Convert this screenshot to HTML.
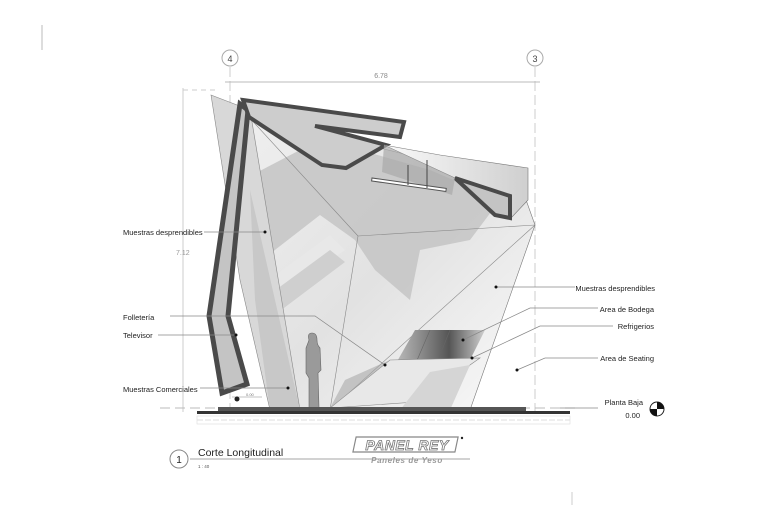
<!DOCTYPE html>
<html><head><meta charset="utf-8"><style>
html,body{margin:0;padding:0;background:#fff;}
svg{display:block;}
text{font-family:"Liberation Sans",Arial,sans-serif;}
</style></head><body>
<svg width="780" height="505" viewBox="0 0 780 505" xmlns="http://www.w3.org/2000/svg">
<defs>
<linearGradient id="g1" x1="0" y1="0" x2="1" y2="1">
<stop offset="0" stop-color="#efefef"/><stop offset="0.5" stop-color="#e2e2e2"/><stop offset="1" stop-color="#fafafa"/></linearGradient>
<linearGradient id="g2" x1="0" y1="0" x2="1" y2="0">
<stop offset="0" stop-color="#bdbdbd"/><stop offset="0.6" stop-color="#555"/><stop offset="1" stop-color="#cfcfcf"/></linearGradient>
<linearGradient id="g3" x1="0" y1="0" x2="1" y2="0">
<stop offset="0" stop-color="#fafafa"/><stop offset="1" stop-color="#cfcfcf"/></linearGradient>
</defs>
<line x1="42" y1="25" x2="42" y2="50" stroke="#bbb" stroke-width="1"/>
<circle cx="230" cy="58" r="8" fill="#fff" stroke="#aaa"/><text x="230" y="62" font-size="9" text-anchor="middle" fill="#444">4</text>
<circle cx="535" cy="58" r="8" fill="#fff" stroke="#aaa"/><text x="535" y="62" font-size="9" text-anchor="middle" fill="#444">3</text>
<line x1="230" y1="67" x2="230" y2="420" stroke="#ccc" stroke-dasharray="10,4"/>
<line x1="535" y1="67" x2="535" y2="420" stroke="#ccc" stroke-dasharray="10,4"/>
<line x1="225" y1="82" x2="540" y2="82" stroke="#bbb"/>
<text x="381" y="78" font-size="7" fill="#888" text-anchor="middle">6.78</text>
<line x1="183" y1="88" x2="183" y2="412" stroke="#ccc"/>
<line x1="183" y1="90" x2="215" y2="90" stroke="#ccc" stroke-dasharray="5,4"/>
<text x="176" y="255" font-size="7" fill="#999">7.12</text>
<polygon points="247,115 380,148 520,183 535,225 470,410 320,410 298,410 255,190" fill="url(#g1)" stroke="#777" stroke-width="0.6"/>
<polygon points="252,175 300,150 360,150 430,170 500,200 470,240 420,250 410,300 375,270 355,240 320,215 262,260" fill="#c4c4c4" opacity="0.85"/>
<polygon points="262,285 330,235 345,250 272,300" fill="#e8e8e8"/>
<polygon points="262,300 330,250 345,262 268,320" fill="#cfcfcf"/>
<line x1="358" y1="236" x2="535" y2="225" stroke="#888" stroke-width="0.6"/>
<line x1="247" y1="115" x2="358" y2="236" stroke="#888" stroke-width="0.6"/>
<line x1="358" y1="236" x2="330" y2="410" stroke="#888" stroke-width="0.6"/>
<line x1="535" y1="225" x2="330" y2="410" stroke="#888" stroke-width="0.6"/>
<polygon points="211,95 250,110 300,410 270,410 240,280" fill="#d8d8d8" stroke="#888" stroke-width="0.6"/>
<polygon points="250,190 300,410 270,410 255,300" fill="#c8c8c8"/>
<polygon points="415,330 485,330 470,360 395,365" fill="url(#g2)"/>
<line x1="430" y1="330" x2="415" y2="365" stroke="#666" stroke-width="0.6"/>
<line x1="450" y1="330" x2="438" y2="360" stroke="#666" stroke-width="0.6"/>
<polygon points="390,360 480,358 470,365 445,400 330,408" fill="#e8e8e8" stroke="#888" stroke-width="0.6"/>
<polygon points="430,372 470,365 450,410 400,410" fill="#d5d5d5"/>
<polygon points="390,360 330,408 345,380" fill="#aaa" opacity="0.6"/>
<polygon points="240,104 248,110 228,316 247,384 222,393 209,316" fill="#c4c4c4" stroke="#4a4a4a" stroke-width="5" stroke-linejoin="miter"/>
<polygon points="243,100 404,122 400,137 315,126 386,145 346,168 322,165 249,117" fill="#cdcdcd" stroke="#4a4a4a" stroke-width="4" stroke-linejoin="miter"/>
<polygon points="384,145 440,155 528,168 528,200 512,217 455,178" fill="url(#g3)" stroke="#777" stroke-width="0.6"/>
<polygon points="455,178 510,196 510,218 495,215" fill="#c4c4c4" stroke="#4a4a4a" stroke-width="4"/>
<polygon points="384,145 455,178 452,195 382,172" fill="#aaa" opacity="0.7"/>
<rect x="372" y="178" width="75" height="3" fill="#fff" stroke="#555" transform="rotate(8 372 178)"/>
<line x1="408" y1="165" x2="408" y2="185" stroke="#444"/><line x1="427" y1="160" x2="427" y2="188" stroke="#444"/>
<path d="M312,333 q5,0 5,7 q0,5 3,8 l1,22 l-3,3 l1,35 h-10 l0,-30 l-3,-5 l0,-25 q2,-5 3,-8 q-2,-7 3,-7z" fill="#9a9a9a" stroke="#666" stroke-width="0.6"/>
<line x1="160" y1="408" x2="580" y2="408" stroke="#bbb" stroke-dasharray="10,5"/>
<rect x="218" y="407" width="308" height="5" fill="#555"/>
<rect x="197" y="411" width="373" height="3" fill="#333"/>
<rect x="197" y="416" width="373" height="8" fill="#fff" stroke="#ddd" stroke-width="0.6"/>
<line x1="197" y1="420" x2="570" y2="420" stroke="#ddd" stroke-dasharray="6,2"/>
<line x1="232" y1="397" x2="262" y2="397" stroke="#888" stroke-width="0.6"/>
<circle cx="237" cy="399" r="2.5" fill="#222"/>
<text x="246" y="396" font-size="4" fill="#777">0.00</text>
<g stroke="#888" stroke-width="0.7" fill="none">
<line x1="204" y1="232" x2="265" y2="232"/>
<polyline points="170,316 315,316 385,365"/>
<line x1="158" y1="335" x2="236" y2="335"/>
<line x1="200" y1="388" x2="288" y2="388"/>
<line x1="496" y1="287" x2="575" y2="287"/>
<polyline points="463,340 530,308 598,308"/>
<polyline points="472,358 540,326 613,326"/>
<polyline points="517,370 545,358 598,358"/>
<line x1="560" y1="408" x2="598" y2="408"/>
<line x1="190" y1="459" x2="470" y2="459"/>
</g>
<g fill="#111"><circle cx="265" cy="232" r="1.5"/><circle cx="236" cy="335" r="1.5"/><circle cx="288" cy="388" r="1.5"/><circle cx="385" cy="365" r="1.5"/><circle cx="496" cy="287" r="1.5"/><circle cx="463" cy="340" r="1.5"/><circle cx="472" cy="358" r="1.5"/><circle cx="517" cy="370" r="1.5"/></g>
<g font-size="7.5" fill="#222">
<text x="123" y="235">Muestras desprendibles</text>
<text x="123" y="320">Folletería</text>
<text x="123" y="338">Televisor</text>
<text x="123" y="392">Muestras Comerciales</text>
<text x="655" y="291" text-anchor="end">Muestras desprendibles</text>
<text x="654" y="312" text-anchor="end">Area de Bodega</text>
<text x="654" y="329" text-anchor="end">Refrigerios</text>
<text x="654" y="361" text-anchor="end">Area de Seating</text>
<text x="643" y="405" text-anchor="end">Planta Baja</text>
<text x="640" y="418" text-anchor="end">0.00</text>
</g>
<circle cx="657" cy="409" r="7" fill="#fff" stroke="#222"/>
<path d="M657,409 L657,402 A7,7 0 0 1 664,409 Z M657,409 L657,416 A7,7 0 0 1 650,409 Z" fill="#111"/>
<circle cx="179" cy="459" r="9" fill="#fff" stroke="#888"/>
<text x="179" y="463" font-size="10" text-anchor="middle" fill="#222">1</text>
<text x="198" y="456" font-size="10.5" fill="#222">Corte Longitudinal</text>
<text x="198" y="468" font-size="4.5" fill="#555">1 : 40</text>
<g transform="skewX(-12)">
<rect x="450" y="437" width="102" height="15" fill="#fff" stroke="#888" stroke-width="1.2" transform="translate(-1,0)"/>
</g>
<text x="407" y="450" font-size="14" font-style="italic" font-weight="bold" text-anchor="middle" fill="#fff" stroke="#777" stroke-width="0.8" letter-spacing="0.5">PANEL REY</text>
<circle cx="462" cy="438" r="1.2" fill="#222"/>
<text x="407" y="463" font-size="8" font-style="italic" font-weight="bold" text-anchor="middle" fill="#999" letter-spacing="0.6">Paneles de Yeso</text>
<line x1="572" y1="492" x2="572" y2="505" stroke="#ccc"/>
</svg>
</body></html>
